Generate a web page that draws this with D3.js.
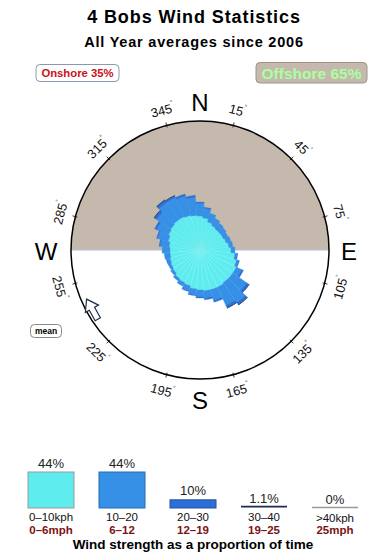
<!DOCTYPE html>
<html>
<head>
<meta charset="utf-8">
<script src="https://cdn.jsdelivr.net/npm/d3@7"></script>
<style>
  body { margin: 0; background: #fff; }
  svg { display: block; font-family: "Liberation Sans", Arial, sans-serif; }
</style>
</head>
<body>
<svg id="chart" width="390" height="560"></svg>
<script>
// direction bins (degrees, clockwise from north)
const bearings = [0, 10, 20, 30, 40, 50, 60, 70, 80, 90, 100, 110, 120, 130, 140, 150, 160, 170,
    180, 190, 200, 210, 220, 230, 240, 250, 260, 270, 280, 290, 300, 310, 320, 330, 340, 350];
// % of time per bin for each speed class
const kph0to10 = [1.28, 1.14, 0.93, 0.81, 0.75, 0.75, 0.75, 0.81, 0.93, 1.07, 1.36, 1.60, 1.78, 1.78, 1.78, 1.87, 1.87, 1.87,
    1.78, 1.69, 1.52, 1.44, 1.36, 1.21, 1.14, 1.07, 1.00, 1.00, 1.07, 1.21, 1.36, 1.44, 1.52, 1.52, 1.44, 1.36];
const kph10to20 = [1.17, 0.82, 0.67, 0.55, 0.46, 0.39, 0.32, 0.33, 0.28, 0.29, 0.16, 0.17, 0.57, 1.83, 2.77, 2.27, 1.14, 0.69,
    0.68, 0.56, 0.44, 0.34, 0.24, 0.23, 0.22, 0.22, 0.44, 0.60, 0.71, 0.94, 1.20, 1.68, 2.22, 2.22, 2.04, 1.76];
const kph20to30 = [0.11, 0.09, 0, 0, 0, 0, 0, 0, 0, 0, 0.08, 0.09, 0.21, 0.39, 0.44, 0.42, 0.24, 0.22,
    0.11, 0.10, 0.09, 0, 0, 0, 0, 0.08, 0, 0, 0.09, 0.10, 0.22, 0.36, 0.40, 0.26, 0.25, 0.24];
const kph30to40 = [0, 0, 0, 0, 0, 0, 0, 0, 0, 0, 0, 0, 0, 0.03, 0.05, 0.03, 0, 0,
    0, 0, 0, 0, 0, 0, 0, 0, 0, 0, 0, 0, 0, 0.03, 0.05, 0.03, 0, 0];

const degTicks = [15, 45, 75, 105, 135, 165, 195, 225, 255, 285, 315, 345];
const cardinals = ['N', 'E', 'S', 'W'];
const cardinalAngles = [0, 90, 180, 270];

const kphLabels = ['0–10kph', '10–20', '20–30', '30–40', '>40kph'];
const mphLabels = ['0–6mph', '6–12', '12–19', '19–25', '25mph'];
const classShare = [44, 44, 10, 1.1, 0];
const shareLabels = ['44%', '44%', '10%', '1.1%', '0%'];
const classColors = ['#5eecee', '#3690e6', '#2c6fd6', '#1d2b4c', '#9a9a9a'];

const onshorePct = 35;
const offshorePct = 65;
const meanBearing = 241;

const svg = d3.select('#chart');
const cx = 200, cy = 250, R = 129;
const rad = d => d * Math.PI / 180;
const px = (a, r) => cx + r * Math.sin(rad(a));
const py = (a, r) => cy - r * Math.cos(rad(a));

// titles
svg.append('text').attr('x', 194).attr('y', 23).attr('text-anchor', 'middle')
    .attr('font-size', 18).attr('font-weight', 'bold').attr('letter-spacing', 0.9)
    .text('4 Bobs Wind Statistics');
svg.append('text').attr('x', 194).attr('y', 47).attr('text-anchor', 'middle')
    .attr('font-size', 14.5).attr('font-weight', 'bold').attr('letter-spacing', 0.8)
    .text('All Year averages since 2006');

// onshore / offshore tags
svg.append('rect').attr('x', 36).attr('y', 64.5).attr('width', 83).attr('height', 17).attr('rx', 4)
    .attr('fill', '#fff').attr('stroke', '#8a9aae');
svg.append('text').attr('x', 77.5).attr('y', 77).attr('text-anchor', 'middle')
    .attr('font-size', 11.3).attr('font-weight', 'bold').attr('fill', '#cc1020')
    .text(`Onshore ${onshorePct}%`);
svg.append('rect').attr('x', 256).attr('y', 62.5).attr('width', 111).attr('height', 20.5).attr('rx', 4)
    .attr('fill', '#c5b9ad').attr('stroke', '#9c948c');
svg.append('text').attr('x', 311.5).attr('y', 78.5).attr('text-anchor', 'middle')
    .attr('font-size', 15.5).attr('font-weight', 'bold').attr('fill', '#aaffa0')
    .text(`Offshore ${offshorePct}%`);

// offshore half (north)
svg.append('path')
    .attr('d', d3.arc().innerRadius(0).outerRadius(R).startAngle(-Math.PI / 2).endAngle(Math.PI / 2)())
    .attr('transform', `translate(${cx},${cy})`)
    .attr('fill', '#c5b9ad');
svg.append('line').attr('x1', cx - R).attr('x2', cx + R).attr('y1', cy).attr('y2', cy)
    .attr('stroke', '#a9c3d8').attr('stroke-width', 1);

// rose
const table = bearings.map((b, i) => ({
    b, c0: kph0to10[i], c1: kph10to20[i], c2: kph20to30[i], c3: kph30to40[i],
}));
const series = d3.stack().keys(['c0', 'c1', 'c2', 'c3'])(table);
const r = d3.scaleSqrt().domain([0, 18.5]).range([0, R]);
const arc = d3.arc()
    .innerRadius(d => r(d[0]))
    .outerRadius(d => r(d[1]))
    .startAngle(d => rad(d.data.b - 5))
    .endAngle(d => rad(d.data.b + 5));

const rose = svg.append('g').attr('transform', `translate(${cx},${cy})`);
rose.selectAll('g')
    .data(series)
    .join('g')
    .attr('fill', (s, i) => classColors[i])
    .attr('stroke', (s, i) => i === 0 ? '#7ef2f4' : classColors[i])
    .attr('stroke-width', (s, i) => i === 0 ? 0.4 : 0.3)
    .selectAll('path')
    .data(s => s.filter(d => d[1] > d[0]))
    .join('path')
    .attr('d', arc);

// outline circle
svg.append('circle').attr('cx', cx).attr('cy', cy).attr('r', R)
    .attr('fill', 'none').attr('stroke', '#000').attr('stroke-width', 1.5);

// degree ticks + labels
svg.selectAll('.tick').data(degTicks).join('line')
    .attr('x1', d => px(d, R - 2)).attr('y1', d => py(d, R - 2))
    .attr('x2', d => px(d, R + 3)).attr('y2', d => py(d, R + 3))
    .attr('stroke', '#000').attr('stroke-width', 0.8);

const degLab = svg.selectAll('.deg').data(degTicks).join('text')
    .attr('transform', d => {
        const rot = (d > 90 && d < 270) ? d - 180 : d;
        return `translate(${px(d, 145)},${py(d, 145)}) rotate(${rot})`;
    })
    .attr('text-anchor', 'middle')
    .attr('dominant-baseline', 'central')
    .attr('font-size', 12.8)
    .attr('fill', '#111');
degLab.append('tspan').text(d => d);
degLab.append('tspan').attr('font-size', 6).attr('dy', -5).text('°');

svg.selectAll('.card').data(cardinals).join('text')
    .attr('x', (d, i) => px(cardinalAngles[i], i === 3 ? 154 : 149))
    .attr('y', (d, i) => py(cardinalAngles[i], 149) + 1)
    .attr('text-anchor', 'middle')
    .attr('dominant-baseline', 'central')
    .attr('font-size', 24)
    .attr('fill', '#000')
    .text(d => d);

// mean direction arrow
svg.append('path')
    .attr('d', 'M0,-12 L7.5,-1 L3,-1 L3,11 L-3,11 L-3,-1 L-7.5,-1 Z')
    .attr('transform', `translate(${px(meanBearing, 123)},${py(meanBearing, 123)}) rotate(${meanBearing + 90})`)
    .attr('fill', '#fff').attr('stroke', '#1d2b4c').attr('stroke-width', 1.2);
svg.append('rect').attr('x', 30.5).attr('y', 324.5).attr('width', 31).attr('height', 13).attr('rx', 4)
    .attr('fill', '#fff').attr('stroke', '#888');
svg.append('text').attr('x', 46).attr('y', 334).attr('text-anchor', 'middle')
    .attr('font-size', 8.5).attr('font-weight', 'bold').text('mean');

// speed legend
const lx = d3.scalePoint().domain(kphLabels).range([51, 335]);
const ly = d3.scaleLinear().domain([0, 44]).range([508, 472]);
const bw = 46;
const leg = svg.append('g');
const item = leg.selectAll('g').data(kphLabels).join('g')
    .attr('transform', d => `translate(${lx(d)},0)`);
item.each(function (d, i) {
    const g = d3.select(this);
    const h = ly(0) - ly(classShare[i]);
    if (h > 2) {
        g.append('rect').attr('x', -bw / 2).attr('y', ly(classShare[i])).attr('width', bw).attr('height', h)
            .attr('fill', classColors[i])
            .attr('stroke', i === 0 ? '#9a9a9a' : d3.color(classColors[i]).darker(0.8))
            .attr('stroke-width', 1);
    } else {
        g.append('line').attr('x1', -bw / 2).attr('x2', bw / 2)
            .attr('y1', ly(classShare[i]) - 0.5).attr('y2', ly(classShare[i]) - 0.5)
            .attr('stroke', classColors[i]).attr('stroke-width', 1.6);
    }
    g.append('text').attr('y', ly(classShare[i]) - 4.5).attr('text-anchor', 'middle')
        .attr('font-size', 13).attr('fill', '#222').text(shareLabels[i]);
    g.append('text').attr('y', i === 4 ? 521.5 : 520.5).attr('text-anchor', 'middle')
        .attr('font-size', 11.5).attr('fill', '#111').text(d);
    g.append('text').attr('y', 533.5).attr('text-anchor', 'middle')
        .attr('font-size', 11.5).attr('font-weight', 'bold').attr('fill', '#7c1212').text(mphLabels[i]);
});
svg.append('text').attr('x', 193).attr('y', 549).attr('text-anchor', 'middle')
    .attr('font-size', 13.5).attr('font-weight', 'bold').text('Wind strength as a proportion of time');
</script>
</body>
</html>
